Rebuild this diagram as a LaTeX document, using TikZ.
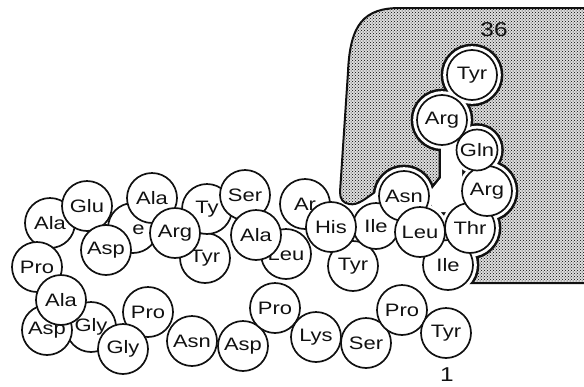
\documentclass[tikz,border=0pt]{standalone}
\usepackage{fontspec}
\setmainfont[FakeStretch=1.22]{Liberation Sans}
\usepackage{tikz}
\usetikzlibrary{patterns,backgrounds}
\definecolor{rInk}{HTML}{111111}
\definecolor{rShade}{HTML}{DEDEDE}
\tikzset{
  res/.style={circle, draw=rInk, line width=1.7pt, fill=white, minimum size=50pt,
    inner sep=0pt, font=\fontsize{18}{20}\selectfont, text=rInk},
  smallres/.style={res, minimum size=41pt},
  resnum/.style={font=\fontsize{20}{22}\selectfont, text=rInk},
}
% receptor pocket outline and the cleared channel round the C-terminal chain
\newcommand{\pocketpath}{(340,192) -- (348,72) .. controls (350,24) and (364,8) .. (400,8)
  -- (590,8) -- (590,283) -- (448,283) -- (448,262) -- (420,232) -- (404,205) -- (378,190)
  .. controls (366,198) and (358,206) .. (349,204) .. controls (343,203) and (340,199) .. (340,192) -- cycle}
\newcommand{\gappath}{(441,122) -- (441,178) -- (425,198) -- (438,212) -- (462,212) -- (462,122) -- cycle}

\begin{document}
\begin{tikzpicture}[x=1pt, y=-1pt]
  \useasboundingbox (0,0) rectangle (584,386);
  % N-terminal tail, back to front
  \node[res] (ala14) at (50,223) {Ala};
  \node[res] (pro13) at (37,267) {Pro};
  \node[res] (gly10) at (91,327) {Gly};
  \node[res] (asp11) at (47,330) {Asp};
  \node[res] (ala12) at (61,300) {Ala};
  \node[res] (pro8) at (148,312) {Pro};
  \node[res] (gly9) at (123,349) {Gly};
  \node[res] (asn7) at (192,341) {Asn};
  \node[res] (asp6) at (243,346) {Asp};
  \node[res] (pro5) at (275,308) {Pro};
  \node[res] (lys4) at (316,337) {Lys};
  \node[res] (ser3) at (366,343) {Ser};
  \node[res] (pro2) at (402,310) {Pro};
  \node[res] (tyr1) at (446,333) {Tyr};
  % helix
  \node[res] (ile17) at (133,228) {\phantom{Il}e};
  \node[res] (glu15) at (87,206) {Glu};
  \node[res] (asp16) at (106,250) {Asp};
  \node[res] (ala18) at (152,198) {Ala};
  \node[res] (tyr20) at (205,258) {Tyr};
  \node[res] (tyr21) at (207,209) {Ty};
  \node[res] (arg19) at (175,233) {Arg};
  \node[res] (ser22) at (245,195) {Ser};
  \node[res] (leu24) at (286,254) {Leu};
  \node[res] (ala23) at (256,235) {Ala};
  \node[res] (arg25) at (305,204) {Ar};
  \node[res] (tyr27) at (353,266) {Tyr};
  \node[res, minimum size=46pt] (ile28) at (376,226) {Ile};
  \node[res] (his26) at (331,227) {His};
  % C-terminus in the pocket
  \node[res] (asn29) at (404,196) {Asn};
  \node[res] (ile31) at (448,265) {Ile};
  \node[res] (thr32) at (470,228) {Thr};
  \node[res] (arg33) at (487,191) {Arg};
  \node[smallres] (gln34) at (477,150) {Gln};
  \node[res] (arg35) at (442,120) {Arg};
  \node[res] (tyr36) at (472,75) {Tyr};
  \node[res] (leu30) at (420,232) {Leu};
  \node[resnum] (n36) at (494,30) {36};
  \node[resnum] (n1) at (447,375) {1};

  \begin{pgfonlayer}{background}
    \fill[rShade] \pocketpath;
    \fill[pattern=crosshatch dots, pattern color=black] \pocketpath;
    \draw[rInk, line width=2pt, line join=round] \pocketpath;
    \begin{scope}
      \clip \pocketpath;
      \foreach \n/\r in {asn29/25, leu30/25, ile31/25, thr32/25, arg33/25, gln34/20.5, arg35/25, tyr36/25}
        \fill[rInk] (\n) circle ({\r pt + 6.3pt});
      \filldraw[rInk, line width=5pt, line join=round] \gappath;
    \end{scope}
    \foreach \n/\r in {asn29/25, leu30/25, ile31/25, thr32/25, arg33/25, gln34/20.5, arg35/25, tyr36/25}
      \fill[white] (\n) circle ({\r pt + 3.8pt});
    \fill[white] \gappath;
  \end{pgfonlayer}
\end{tikzpicture}
\end{document}
